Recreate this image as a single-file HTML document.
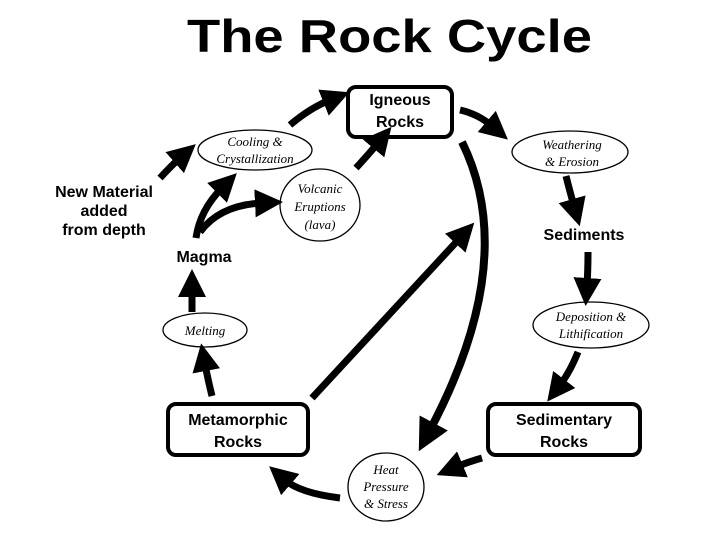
<!DOCTYPE html>
<html><head><style>body{margin:0;background:#fff}svg{display:block}</style></head><body>
<svg width="720" height="540" viewBox="0 0 720 540" xmlns="http://www.w3.org/2000/svg">
<defs>
<marker id="a" markerWidth="4" markerHeight="4" refX="1" refY="2" orient="auto" markerUnits="strokeWidth"><path d="M0,0 L4,2 L0,4 Z" fill="#000"/></marker>
</defs>
<rect width="720" height="540" fill="#fff"/>
<text x="187" y="52" textLength="405" lengthAdjust="spacingAndGlyphs" font-family="Liberation Sans, sans-serif" font-weight="bold" font-size="46">The Rock Cycle</text>
<g fill="none" stroke="#000" stroke-width="4">
<rect x="348" y="87" width="104" height="50" rx="8"/>
<rect x="168" y="404" width="140" height="51" rx="8"/>
<rect x="488" y="404" width="152" height="51" rx="8"/>
</g>
<g fill="#fff" stroke="#000" stroke-width="1.3">
<ellipse cx="255" cy="150" rx="57" ry="20"/>
<ellipse cx="320" cy="205" rx="40" ry="36"/>
<ellipse cx="570" cy="152" rx="58" ry="21"/>
<ellipse cx="591" cy="325" rx="58" ry="23"/>
<ellipse cx="205" cy="330" rx="42" ry="17"/>
<ellipse cx="386" cy="487" rx="38" ry="34"/>
</g>
<g font-family="Liberation Sans, sans-serif" font-weight="bold" text-anchor="middle" font-size="16">
<text x="400" y="105">Igneous</text><text x="400" y="127">Rocks</text>
<text x="238" y="425">Metamorphic</text><text x="238" y="447">Rocks</text>
<text x="564" y="425">Sedimentary</text><text x="564" y="447">Rocks</text>
<text x="104" y="197">New Material</text><text x="104" y="216">added</text><text x="104" y="235">from depth</text>
<text x="204" y="262">Magma</text>
<text x="584" y="240">Sediments</text>
</g>
<g font-family="Liberation Serif, serif" font-style="italic" text-anchor="middle" font-size="13">
<text x="255" y="146">Cooling &amp;</text><text x="255" y="163">Crystallization</text>
<text x="320" y="193">Volcanic</text><text x="320" y="211">Eruptions</text><text x="320" y="229">(lava)</text>
<text x="572" y="149">Weathering</text><text x="572" y="166">&amp; Erosion</text>
<text x="591" y="321">Deposition &amp;</text><text x="591" y="338">Lithification</text>
<text x="205" y="335">Melting</text>
<text x="386" y="474">Heat</text><text x="386" y="491">Pressure</text><text x="386" y="508">&amp; Stress</text>
</g>
<g fill="none" stroke="#000" stroke-width="7" stroke-linecap="butt">
<path d="M290,125 Q310,108 330,100" marker-end="url(#a)"/>
<path d="M160,178 Q172,165 180,158" marker-end="url(#a)"/>
<path d="M356,168 Q368,155 378,143" marker-end="url(#a)"/>
<path d="M196,238 Q200,210 222,188" marker-end="url(#a)"/>
<path d="M200,232 Q220,205 262,203" marker-end="url(#a)"/>
<path d="M460,110 Q478,114 492,126" marker-end="url(#a)"/>
<path d="M566,176 Q570,192 574,206" marker-end="url(#a)"/>
<path d="M588,252 Q588,270 587,285" marker-end="url(#a)"/>
<path d="M578,352 Q570,372 560,385" marker-end="url(#a)"/>
<path d="M482,458 Q468,462 456,467" marker-end="url(#a)"/>
<path d="M340,498 Q300,493 285,480" marker-end="url(#a)"/>
<path d="M212,396 Q208,380 205,364" marker-end="url(#a)"/>
<path d="M192,312 Q192,298 192,290" marker-end="url(#a)"/>
<path d="M312,398 L460,238" marker-end="url(#a)"/>
<path d="M462,142 Q520,260 430,430" marker-end="url(#a)" stroke-width="8"/>
</g>
</svg>
</body></html>
